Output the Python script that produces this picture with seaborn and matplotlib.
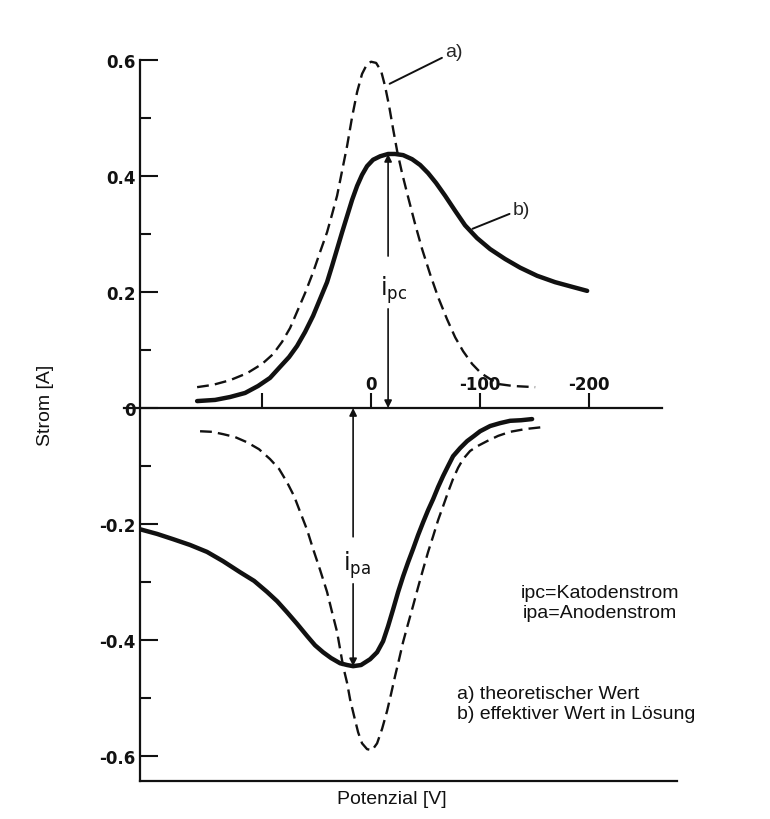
import seaborn as sns
import matplotlib.pyplot as plt

# curve a) theoretical, upper (cathodic) branch
upper_a_v = [159.6, 145.0, 129.4, 113.8, 100.0, 89.9, 81.7, 74.3, 67.9, 60.6, 53.2, 46.8, 40.4, 35.8, 31.2,
             26.6, 22.0, 17.4, 12.8, 8.3, 3.7, 0.0, -4.6, -9.2, -12.8, -16.5, -20.2, -23.9, -28.4, -33.9,
             -40.4, -46.8, -54.1, -61.5, -69.7, -77.1, -84.4, -92.7, -100.9, -109.2, -118.3, -130.3, -150.5]
upper_a_i = [0.036, 0.040, 0.048, 0.060, 0.076, 0.093, 0.114, 0.138, 0.166, 0.198, 0.234, 0.269, 0.303, 0.334, 0.366,
             0.409, 0.452, 0.502, 0.545, 0.576, 0.593, 0.597, 0.595, 0.581, 0.555, 0.521, 0.481, 0.443, 0.405, 0.364,
             0.317, 0.274, 0.231, 0.191, 0.153, 0.122, 0.098, 0.076, 0.060, 0.050, 0.041, 0.038, 0.036]

# curve b) effective, upper branch
upper_b_v = [159.6, 143.1, 129.4, 115.6, 103.7, 92.7, 83.5, 75.2, 67.9, 60.6, 53.2, 46.8, 40.4, 35.8, 31.2,
             26.6, 22.0, 17.4, 12.8, 8.3, 3.7, -1.8, -8.3, -15.6, -22.0, -29.4, -37.6, -45.0, -52.3, -59.6,
             -67.9, -77.1, -86.2, -97.2, -109.2, -122.9, -136.7, -152.3, -168.8, -184.4, -198.2]
upper_b_i = [0.012, 0.014, 0.019, 0.026, 0.038, 0.052, 0.071, 0.088, 0.107, 0.131, 0.159, 0.188, 0.217, 0.245, 0.274,
             0.303, 0.331, 0.359, 0.383, 0.402, 0.417, 0.428, 0.434, 0.438, 0.438, 0.436, 0.429, 0.419, 0.405, 0.388,
             0.366, 0.340, 0.315, 0.293, 0.274, 0.257, 0.242, 0.228, 0.217, 0.209, 0.202]

# curve a) theoretical, lower (anodic) branch
lower_a_v = [156.9, 145.9, 135.8, 124.8, 113.8, 102.8, 92.7, 84.4, 77.1, 70.6, 65.1, 58.7, 53.2, 46.8, 40.4,
             35.8, 31.2, 28.4, 25.7, 22.0, 19.3, 15.6, 11.9, 8.3, 3.7, -0.9, -5.5, -10.1, -14.7, -18.3,
             -22.0, -25.7, -29.4, -33.9, -38.5, -43.1, -47.7, -52.3, -56.9, -61.5, -66.1, -70.6, -75.2, -79.8,
             -84.4, -90.8, -97.2, -106.4, -116.5, -127.5, -142.2, -156.9]
lower_a_i = [-0.040, -0.041, -0.045, -0.050, -0.059, -0.071, -0.088, -0.105, -0.128, -0.152, -0.179, -0.210, -0.243, -0.279, -0.317,
             -0.352, -0.386, -0.416, -0.445, -0.474, -0.502, -0.531, -0.559, -0.578, -0.588, -0.590, -0.578, -0.553, -0.522, -0.493,
             -0.462, -0.433, -0.403, -0.372, -0.341, -0.309, -0.278, -0.248, -0.221, -0.193, -0.169, -0.145, -0.122, -0.103,
             -0.088, -0.074, -0.066, -0.057, -0.048, -0.041, -0.036, -0.033]

# curve b) effective, lower branch
lower_b_v = [211.9, 196.3, 181.7, 166.1, 150.5, 135.8, 120.2, 107.3, 95.4, 86.2, 77.1, 67.9, 58.7, 51.4, 44.0,
             36.7, 28.4, 22.0, 16.5, 9.2, 0.9, -5.5, -11.0, -15.6, -20.2, -24.8, -29.4, -33.9, -38.5, -43.1,
             -47.7, -52.3, -56.9, -61.5, -66.1, -70.6, -75.2, -81.7, -88.1, -94.5, -100.0, -109.2, -118.3, -127.5,
             -137.6, -147.7]
lower_b_i = [-0.209, -0.217, -0.226, -0.236, -0.248, -0.264, -0.283, -0.298, -0.317, -0.333, -0.352, -0.372, -0.393, -0.409, -0.421,
             -0.431, -0.440, -0.443, -0.445, -0.443, -0.433, -0.421, -0.402, -0.376, -0.347, -0.317, -0.290, -0.266, -0.243, -0.219,
             -0.197, -0.176, -0.157, -0.136, -0.117, -0.100, -0.083, -0.069, -0.057, -0.048, -0.040, -0.031, -0.026, -0.022,
             -0.021, -0.019]

x_ticks = [100, 0, -100, -200]
x_tick_labels = ['', '0', '-100', '-200']
y_ticks = [-0.6, -0.4, -0.2, 0, 0.2, 0.4, 0.6]
y_tick_labels = ['-0.6', '-0.4', '-0.2', '0', '0.2', '0.4', '0.6']
y_minor = [-0.5, -0.3, -0.1, 0.1, 0.3, 0.5]

sns.set_style('white')
plt.rcParams['font.family'] = ['DejaVu Sans']

fig = plt.figure(figsize=(7.7, 8.2), dpi=100)
ax = fig.add_axes([0.1818, 0.0463, 0.7277, 0.8970])

ink = '#111111'
dash = (0, (5, 2.6))
sns.lineplot(x=upper_b_v, y=upper_b_i, ax=ax, color=ink, linewidth=3.2, sort=False, estimator=None)
sns.lineplot(x=lower_b_v, y=lower_b_i, ax=ax, color=ink, linewidth=3.2, sort=False, estimator=None)
sns.lineplot(x=upper_a_v, y=upper_a_i, ax=ax, color=ink, linewidth=1.7, linestyle=dash, sort=False, estimator=None)
sns.lineplot(x=lower_a_v, y=lower_a_i, ax=ax, color=ink, linewidth=1.7, linestyle=dash, sort=False, estimator=None)

ax.set_xlim(212, -302)
ax.set_ylim(-0.643, 0.625)

# axes: left frame, bottom frame, and the zero line as the potential axis
ax.spines['right'].set_visible(False)
for s in ['left', 'bottom', 'top']:
    ax.spines[s].set_linewidth(1.6)
    ax.spines[s].set_color(ink)
ax.spines['left'].set_bounds(-0.643, 0.6)
ax.spines['bottom'].set_bounds(212, -281)
ax.spines['top'].set_position(('data', 0))
ax.spines['top'].set_bounds(227, -267)

ax.xaxis.tick_top()
ax.set_xticks(x_ticks)
ax.set_xticklabels(x_tick_labels)
ax.tick_params(axis='x', direction='out', length=11, width=1.5, pad=0, labelsize=12, colors=ink)
ax.set_yticks(y_ticks)
ax.set_yticklabels(y_tick_labels)
ax.set_yticks(y_minor, minor=True)
ax.tick_params(axis='y', which='major', left=True, direction='in', length=13, width=1.5, pad=3, labelsize=12, colors=ink)
ax.tick_params(axis='y', which='minor', left=True, direction='in', length=8, width=1.5, colors=ink)
for lab in ax.get_xticklabels() + ax.get_yticklabels():
    lab.set_fontweight('bold')

# peak current arrows
arr = dict(arrowstyle='-|>', color=ink, lw=1.2, mutation_scale=11, shrinkA=0, shrinkB=0)
ax.annotate('', xy=(-15.6, 0.438), xytext=(-15.6, 0.262), arrowprops=arr)
ax.annotate('', xy=(-15.6, 0.0), xytext=(-15.6, 0.171), arrowprops=arr)
ax.text(-8, 0.205, r'$\mathregular{i_{pc}}$', fontsize=17, ha='left', va='center', color=ink)
ax.annotate('', xy=(16.5, 0.0), xytext=(16.5, -0.222), arrowprops=arr)
ax.annotate('', xy=(16.5, -0.445), xytext=(16.5, -0.303), arrowprops=arr)
ax.text(26, -0.269, r'$\mathregular{i_{pa}}$', fontsize=17, ha='left', va='center', color=ink)

# curve labels
lead = dict(arrowstyle='-', color=ink, lw=1.4, shrinkA=0, shrinkB=0)
ax.annotate('a)', xy=(-17, 0.559), xytext=(-68, 0.614), arrowprops=lead,
            fontsize=14, family='Liberation Sans', va='center', ha='left')
ax.annotate('b)', xy=(-93, 0.309), xytext=(-130, 0.343), arrowprops=lead,
            fontsize=14, family='Liberation Sans', va='center', ha='left')

ax.text(-210, -0.335, 'ipc=Katodenstrom\nipa=Anodenstrom', fontsize=14, family='Liberation Sans',
        ha='center', va='center', multialignment='center', color=ink)
ax.text(-79, -0.509, 'a) theoretischer Wert\nb) effektiver Wert in Lösung', fontsize=14,
        family='Liberation Sans', ha='left', va='center', color=ink)

fig.text(45 / 770, 1 - 405 / 820, 'Strom [A]', rotation=90, fontsize=14, family='Liberation Sans',
         ha='center', va='center', color=ink)
fig.text(392 / 770, 1 - 800 / 820, 'Potenzial [V]', fontsize=14, family='Liberation Sans',
         ha='center', va='center', color=ink)

fig.savefig('out.png', dpi=100, facecolor='white')
